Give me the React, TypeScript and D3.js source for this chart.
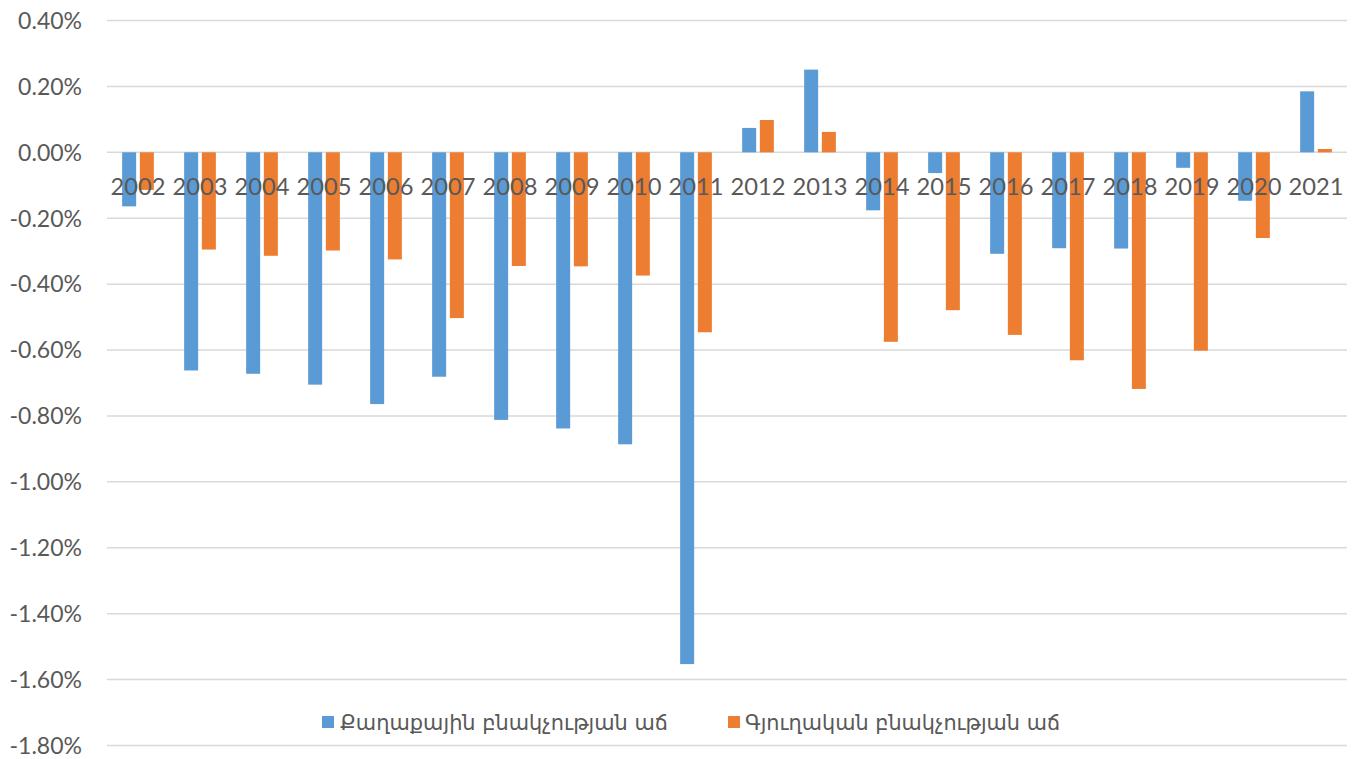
import React from "react";
import * as d3 from "d3";

const years = ["2002","2003","2004","2005","2006","2007","2008","2009","2010","2011","2012","2013","2014","2015","2016","2017","2018","2019","2020","2021"];
const urbanGrowth = [-0.164,-0.662,-0.672,-0.705,-0.764,-0.681,-0.812,-0.838,-0.886,-1.553,0.074,0.251,-0.176,-0.063,-0.308,-0.291,-0.292,-0.047,-0.147,0.185];
const ruralGrowth = [-0.114,-0.295,-0.314,-0.298,-0.325,-0.503,-0.345,-0.346,-0.374,-0.546,0.098,0.062,-0.575,-0.479,-0.554,-0.631,-0.718,-0.602,-0.260,0.010];
const yTicks = [0.4,0.2,0,-0.2,-0.4,-0.6,-0.8,-1.0,-1.2,-1.4,-1.6,-1.8];
const seriesNames = ["Քաղաքային բնակչության աճ","Գյուղական բնակչության աճ"];
const colors = ["#5b9bd5","#ed7d31"];

const W = 1353, H = 759;
const left = 107, right = 1347, top = 20.5, bottom = 745.5;

export default function App() {
  const x = d3.scaleBand<string>().domain(years).range([left, right]).padding(0);
  const y = d3.scaleLinear().domain([-1.8, 0.4]).range([bottom, top]);
  const fmt = (v: number) => d3.format(".2f")(v).replace("\u2212", "-") + "%";
  const bw = 14, gap = 1.85;
  const series = [urbanGrowth, ruralGrowth];
  const font = "Lato, 'DejaVu Sans', sans-serif";
  return (
    <svg width={W} height={H} style={{ position: "absolute", left: 0, top: 0, background: "#fff" }}>
      {yTicks.map((t) => (
        <g key={t}>
          <line x1={left} x2={right} y1={y(t)} y2={y(t)} stroke="#d9d9d9" strokeWidth={1.5} />
          <text x={82} y={y(t)} dy="0.36em" textAnchor="end" fontFamily={font} fontSize={23} fill="#595959">{fmt(t)}</text>
        </g>
      ))}
      {series.map((vals, si) =>
        vals.map((v, i) => {
          const c = (x(years[i]) as number) + x.bandwidth() / 2;
          const bx = si === 0 ? c - gap - bw : c + gap;
          const y0 = y(0), y1 = y(v);
          return <rect key={si + "-" + i} x={bx} width={bw} y={Math.min(y0, y1)} height={Math.abs(y1 - y0)} fill={colors[si]} />;
        })
      )}
      {years.map((yr) => (
        <text key={yr} x={(x(yr) as number) + x.bandwidth() / 2} y={195} textAnchor="middle" fontFamily={font} fontSize={24} fill="#595959"
          textLength={55} lengthAdjust="spacingAndGlyphs">{yr}</text>
      ))}
      <g>
        <rect x={322} y={716} width={12} height={12} fill={colors[0]} />
        <text x={340} y={722} dy="0.36em" fontFamily="'DejaVu Sans', sans-serif" fontSize={21} fill="#595959" textLength={328} lengthAdjust="spacingAndGlyphs">{seriesNames[0]}</text>
        <rect x={728} y={716} width={12} height={12} fill={colors[1]} />
        <text x={745} y={722} dy="0.36em" fontFamily="'DejaVu Sans', sans-serif" fontSize={21} fill="#595959" textLength={315} lengthAdjust="spacingAndGlyphs">{seriesNames[1]}</text>
      </g>
    </svg>
  );
}
